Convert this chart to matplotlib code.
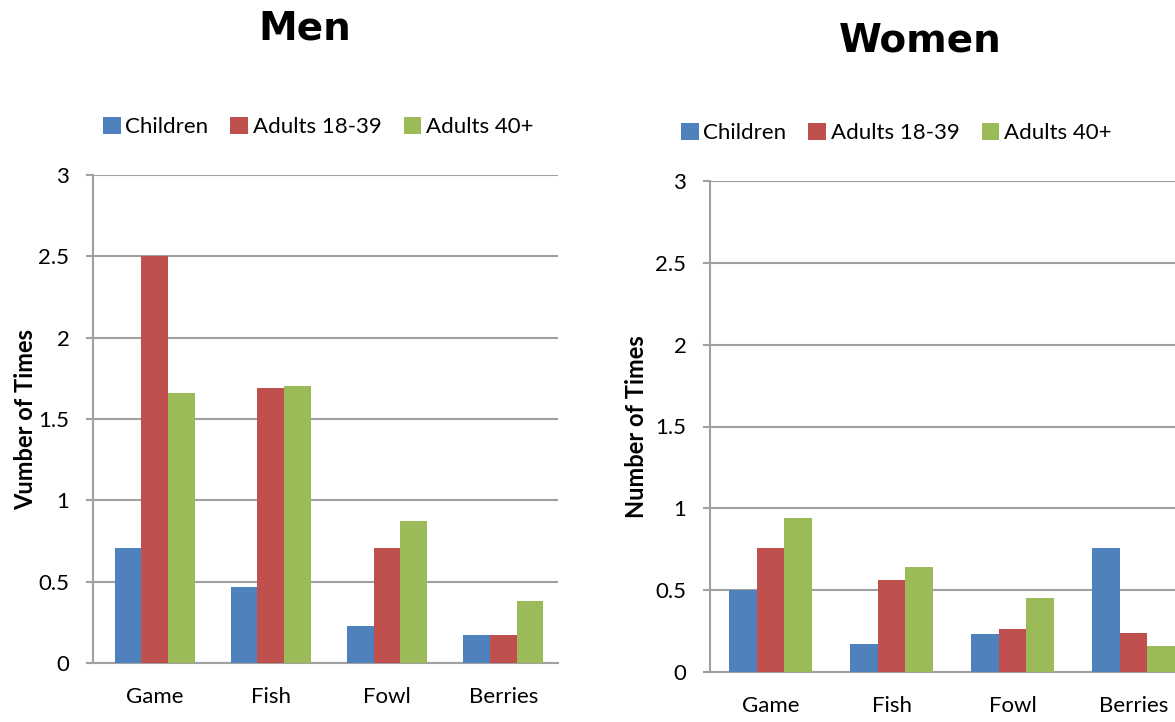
import numpy as np
import matplotlib.pyplot as plt

# Данные
categories = ['Game', 'Fish', 'Fowl', 'Berries']
series_names = ['Children', 'Adults 18-39', 'Adults 40+']
colors = ['#4F81BD', '#C0504D', '#9BBB59']

men_children = [0.71, 0.47, 0.23, 0.17]
men_adults_18_39 = [2.5, 1.69, 0.71, 0.17]
men_adults_40 = [1.66, 1.70, 0.87, 0.38]

women_children = [0.50, 0.17, 0.23, 0.76]
women_adults_18_39 = [0.76, 0.56, 0.26, 0.24]
women_adults_40 = [0.94, 0.64, 0.45, 0.16]

yticks = [0, 0.5, 1, 1.5, 2, 2.5, 3]
ytick_labels = ['0', '0.5', '1', '1.5', '2', '2.5', '3']

plt.rcParams['font.family'] = ['Lato', 'DejaVu Sans']

fig = plt.figure(figsize=(11.75, 7.22), dpi=100)
W, H = 1175, 722


def draw_panel(rect, data, ylabel, shift, labelpad):
    left, top, right, bottom = rect
    ax = fig.add_axes([left / W, (H - bottom) / H, (right - left) / W, (bottom - top) / H])
    x = np.arange(len(categories))
    bw = 0.23
    for i, (vals, name, c) in enumerate(zip(data, series_names, colors)):
        ax.bar(x + (i - 1) * bw, vals, width=bw, color=c, label=name, zorder=3)
    ax.set_xlim(-0.5 - shift, len(categories) - 0.5 - shift)
    ax.set_ylim(0, 3)
    ax.set_yticks(yticks)
    ax.set_yticklabels(ytick_labels, fontsize=16)
    ax.set_xticks(x)
    ax.set_xticklabels(categories, fontsize=16)
    ax.tick_params(axis='x', length=0, pad=17)
    ax.tick_params(axis='y', length=5, color='#a0a0a0', width=1.5, pad=12)
    ax.grid(axis='y', color='#a0a0a0', linewidth=1.5, zorder=0)
    for s in ['top', 'right']:
        ax.spines[s].set_visible(False)
    for s in ['left', 'bottom']:
        ax.spines[s].set_color('#a0a0a0')
        ax.spines[s].set_linewidth(1.5)
    ax.set_ylabel(ylabel, fontsize=17, fontweight='bold', labelpad=labelpad)
    return ax


ax1 = draw_panel((93, 175, 558, 663),
                 [men_children, men_adults_18_39, men_adults_40], 'Vumber of Times', 0.03, 1)
ax2 = draw_panel((710, 181, 1194, 672),
                 [women_children, women_adults_18_39, women_adults_40], 'Number of Times', 0.0, 5)

h, l = ax1.get_legend_handles_labels()
fig.legend(h, l, loc='center', bbox_to_anchor=(318 / W, 1 - 127 / H), ncol=3,
           frameon=False, fontsize=16, handlelength=0.8, handleheight=0.8,
           handletextpad=0.2, columnspacing=1.0)
fig.legend(h, l, loc='center', bbox_to_anchor=(896 / W, 1 - 133 / H), ncol=3,
           frameon=False, fontsize=16, handlelength=0.8, handleheight=0.8,
           handletextpad=0.2, columnspacing=1.0)

fig.text(305 / W, 1 - 28 / H, 'Men', ha='center', va='center', fontsize=28,
         fontweight='bold', family='DejaVu Sans')
fig.text(920 / W, 1 - 40 / H, 'Women', ha='center', va='center', fontsize=28,
         fontweight='bold', family='DejaVu Sans')

fig.savefig('out.png', dpi=100)
